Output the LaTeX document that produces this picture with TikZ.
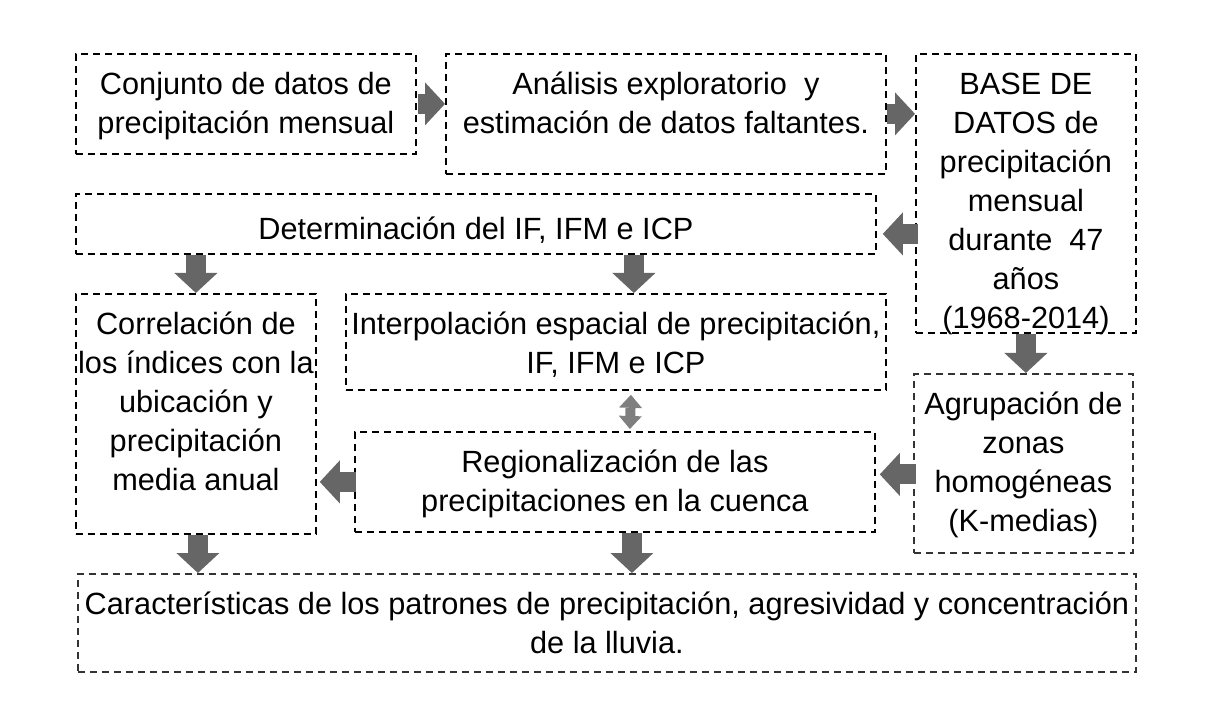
\documentclass[tikz,border=0pt]{standalone}
\usepackage{fontspec}
\setmainfont{Liberation Sans}
\usetikzlibrary{arrows.meta,positioning}
\definecolor{flowgray}{HTML}{666666}
\definecolor{dblgray}{HTML}{7F7F7F}
\definecolor{softink}{HTML}{333333}
\tikzset{
  box/.style   = {rectangle, draw, line width=0.9pt, dash pattern=on 3.5pt off 2.5pt,
                  anchor=north west, inner sep=0pt},
  softbox/.style = {box, draw=softink},
  txt/.style   = {align=center, inner sep=0pt, execute at begin node=\strut,
                  font=\fontsize{15.35}{19.5}\selectfont},
  blk/.style   = {draw=flowgray, line width=10pt,
                  -{Triangle[length=10pt, width=21.5pt, line width=0pt]}},
  dbl/.style   = {draw=dblgray, line width=5pt,
                  {Triangle[length=6.5pt, width=11.5pt, line width=0pt]}-{Triangle[length=6.5pt, width=11.5pt, line width=0pt]}},
}

\begin{document}
\begin{tikzpicture}[x=0.5pt, y=-0.5pt]
\useasboundingbox (0,0) rectangle (1213,726);

% --- boxes
\node[box, minimum width=170pt, minimum height=50pt] (conj) at (75,53) {};
\node[box, minimum width=220pt, minimum height=60pt] (anal) at (445,53) {};
\node[box, minimum width=110pt, minimum height=139.5pt] (base) at (915,53.5) {};
\node[box, minimum width=400pt, minimum height=30pt] (det) at (75,193) {};
\node[box, minimum width=120pt, minimum height=120pt] (corr) at (75,293) {};
\node[box, minimum width=270pt, minimum height=48pt] (interp) at (345,293) {};
\node[softbox, minimum width=109.5pt, minimum height=89.5pt] (agrup) at (913,373) {};
\node[box, minimum width=260pt, minimum height=50pt] (region) at (354,431) {};
\node[softbox, minimum width=529pt, minimum height=49pt] (caract) at (77,573) {};

% --- texts
\node[txt, below=9.4pt of conj.north] (conjtxt) {Conjunto de datos de\\precipitación mensual};
\node[txt, below=9.4pt of anal.north] (analtxt) {Análisis exploratorio~ y\\estimación de datos faltantes.};
\node[txt, below=9.4pt of base.north] (basetxt) {BASE DE\\DATOS de\\precipitación\\mensual\\durante~ 47\\años\\(1968-2014)};
\node[txt, below=9.4pt of det.north] (dettxt) {Determinación del IF, IFM e ICP};
\node[txt, below=9.4pt of corr.north] (corrtxt) {Correlación de\\los índices con la\\ubicación y\\precipitación\\media anual};
\node[txt, below=9.4pt of interp.north] (interptxt) {Interpolación espacial de precipitación,\\IF, IFM e ICP};
\node[txt, below=9.4pt of agrup.north] (agruptxt) {Agrupación de\\zonas\\homogéneas\\(K-medias)};
\node[txt, below=9.4pt of region.north] (regiontxt) {Regionalización de las\\precipitaciones en la cuenca};
\node[txt, below=9.4pt of caract.north] (caracttxt) {Características de los patrones de precipitación, agresividad y concentración\\de la lluvia.};

% --- arrows
\draw[blk] ([xshift=0.5pt]conj.east) -- (anal.west |- conj.east);
\draw[blk] ([yshift=-5pt]anal.east |- conj.east) -- ([yshift=-5pt]base.west |- conj.east);
\draw[blk] ([xshift=1.5pt,yshift=-5pt]base.west |- det.east) -- ([xshift=3pt,yshift=-5pt]det.east);
\draw[blk] (det.south -| corr.north) -- (corr.north);
\draw[blk] ([xshift=9pt]det.south -| interp.north) -- ([xshift=9pt]interp.north);
\draw[blk] (base.south) -- (base.south |- agrup.north);
\draw[blk] ([xshift=1.5pt,yshift=-5.5pt]agrup.west) -- ([xshift=2pt,yshift=-5.5pt]agrup.west -| region.east);
\draw[blk] ([xshift=1pt]region.west |- region.east) -- ([xshift=1.5pt]corr.east |- region.east);
\draw[dbl] ([xshift=7.5pt,yshift=-2pt]interp.south) -- ([xshift=7.5pt,yshift=1pt]region.north);
\draw[blk] ([xshift=1pt]corr.south) -- ([xshift=1pt]corr.south |- caract.north);
\draw[blk] ([xshift=8.5pt]region.south) -- ([xshift=8.5pt]region.south |- caract.north);

\end{tikzpicture}
\end{document}
